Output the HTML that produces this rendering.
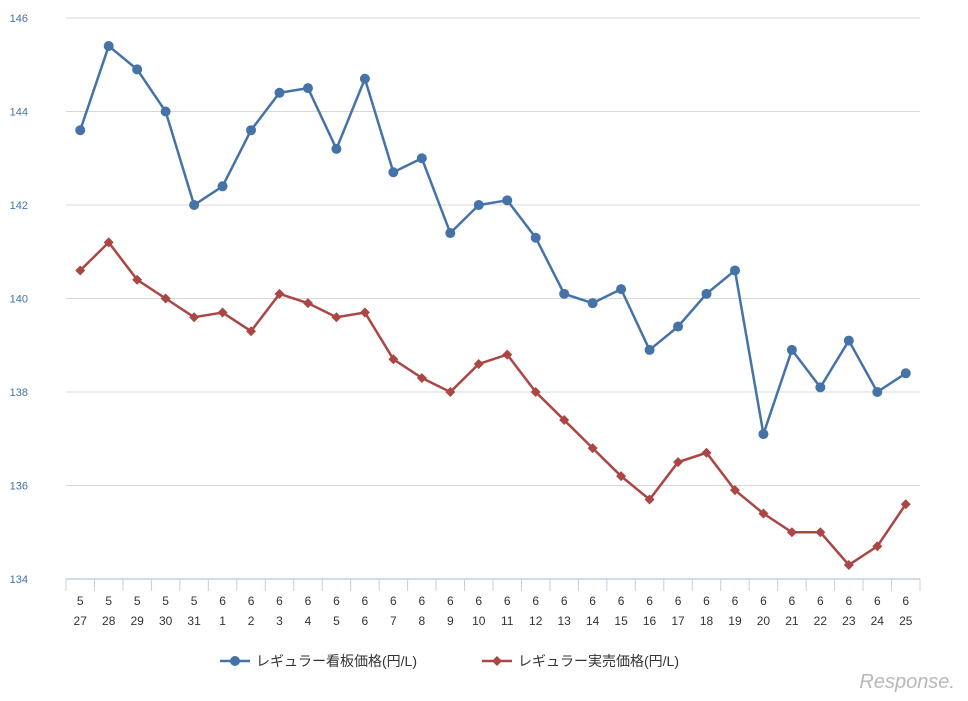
<!DOCTYPE html>
<html><head><meta charset="utf-8"><style>
body{margin:0;background:#fff;}
svg{display:block;font-family:"Liberation Sans","Noto Sans CJK JP",sans-serif;}
</style></head><body>
<svg id="c" width="968" height="701"></svg>
<script>
const months=[5,5,5,5,5,6,6,6,6,6,6,6,6,6,6,6,6,6,6,6,6,6,6,6,6,6,6,6,6,6];
const days=[27,28,29,30,31,1,2,3,4,5,6,7,8,9,10,11,12,13,14,15,16,17,18,19,20,21,22,23,24,25];
const signPrice=[143.6,145.4,144.9,144.0,142.0,142.4,143.6,144.4,144.5,143.2,144.7,142.7,143.0,141.4,142.0,142.1,141.3,140.1,139.9,140.2,138.9,139.4,140.1,140.6,137.1,138.9,138.1,139.1,138.0,138.4];
const salePrice=[140.6,141.2,140.4,140.0,139.6,139.7,139.3,140.1,139.9,139.6,139.7,138.7,138.3,138.0,138.6,138.8,138.0,137.4,136.8,136.2,135.7,136.5,136.7,135.9,135.4,135.0,135.0,134.3,134.7,135.6];
const yTicks=[134,136,138,140,142,144,146];
const NS="http://www.w3.org/2000/svg",svg=document.getElementById('c');
const X0=66,X1=920,Y0=579,Y1=18,band=(X1-X0)/days.length;
const x=i=>X0+band*(i+0.5);
const y=v=>Y0-(v-134)/(146-134)*(Y0-Y1);
function mk(t,a,p){const e=document.createElementNS(NS,t);for(const k in a)e.setAttribute(k,a[k]);(p||svg).appendChild(e);return e;}
yTicks.forEach(v=>{
  if(v>134){const g=mk('line',{x1:X0,x2:X1,y1:y(v),y2:y(v),stroke:'#d8d8d8','stroke-width':1});
  
  }
  const t=mk('text',{x:28,y:y(v)+4,'text-anchor':'end','font-size':11,fill:'#4572a7'});t.textContent=v;
  
  
});
const ax=mk('line',{x1:X0,x2:X1,y1:Y0,y2:Y0,stroke:'#c0d0e0','stroke-width':1.5});


for(let i=0;i<=days.length;i++){mk('line',{x1:X0+band*i,x2:X0+band*i,y1:Y0,y2:Y0+12,stroke:'#c0d0e0'});}
days.forEach((d,i)=>{
  const t=mk('text',{x:x(i),y:605,'text-anchor':'middle','font-size':12,fill:'#333'});t.textContent=months[i];
  
  
  const t2=mk('text',{x:x(i),y:625,'text-anchor':'middle','font-size':12,fill:'#333'});t2.textContent=d;
  
  
});
function series(data,color,shape,name){
  const p=mk('polyline',{points:data.map((v,i)=>x(i)+','+y(v)).join(' '),fill:'none',stroke:color,'stroke-width':2.5});
  
  
  data.forEach((v,i)=>{
    let m;
    if(shape==='c')m=mk('circle',{cx:x(i),cy:y(v),r:5,fill:color});
    else{const cx=x(i),cy=y(v);m=mk('polygon',{points:`${cx},${cy-5} ${cx+5},${cy} ${cx},${cy+5} ${cx-5},${cy}`,fill:color});}
    
    
  });
}
series(signPrice,'#4572a7','c','sign-price');
series(salePrice,'#aa4643','d','sale-price');
// legend
const lg=mk('g',{});
mk('line',{x1:220,x2:250,y1:661,y2:661,stroke:'#4572a7','stroke-width':2.5},lg);
mk('circle',{cx:235,cy:661,r:5,fill:'#4572a7'},lg);
let lt=mk('text',{x:256,y:666,'font-size':14,fill:'#333'},lg);lt.textContent='レギュラー看板価格(円/L)';

mk('line',{x1:482,x2:512,y1:661,y2:661,stroke:'#aa4643','stroke-width':2.5},lg);
mk('polygon',{points:'497,656 502,661 497,666 492,661',fill:'#aa4643'},lg);
lt=mk('text',{x:518,y:666,'font-size':14,fill:'#333'},lg);lt.textContent='レギュラー実売価格(円/L)';

const wm=mk('text',{x:955,y:688,'text-anchor':'end','font-size':20,'font-style':'italic',fill:'#b8b8b8'});wm.textContent='Response.';

</script>
</body></html>
